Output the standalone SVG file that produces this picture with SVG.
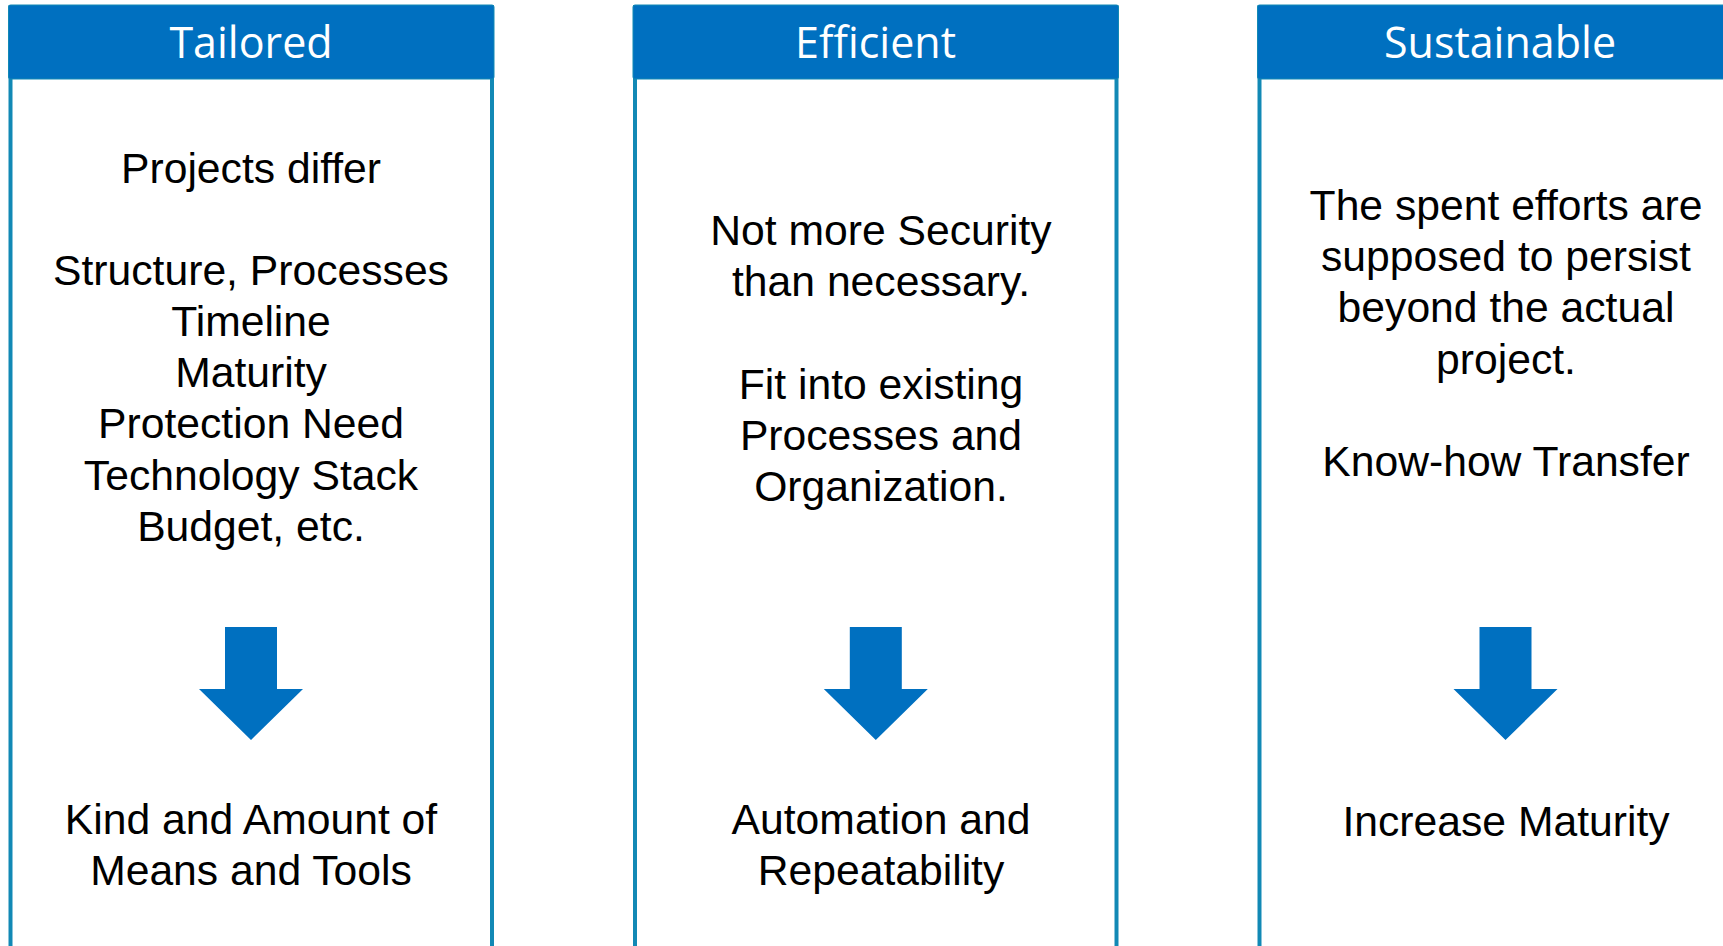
<svg xmlns="http://www.w3.org/2000/svg" width="1723" height="946" viewBox="0 0 1723 946">
<style>
.frame{fill:#ffffff;stroke:#1289b5;stroke-width:4}
.head{fill:#0070c0;stroke:#1289b5;stroke-width:1}
.htxt{font-family:"Open Sans","Noto Sans",sans-serif;font-size:43px;font-weight:500;fill:#ffffff;text-anchor:middle}
.btxt{font-family:"Liberation Sans",Arial,sans-serif;font-size:42.67px;fill:#000000;text-anchor:middle}
.arrow{fill:#0070c0}
</style>
<defs>
<path id="downArrow" class="arrow" d="M-26,0 H26 V62 H52 L0,113 L-52,62 H-26 Z"/>
</defs>
<rect width="1723" height="946" fill="#ffffff"/>
<g id="panel-tailored">
<rect class="frame" x="10.5" y="7" width="481.5" height="1000"/>
<rect class="head" x="8.5" y="5" width="485.5" height="74" rx="2"/>
<text class="htxt" x="251" y="58">Tailored</text>
<text class="btxt" x="251" y="183">Projects differ</text>
<text class="btxt" x="251" y="284.8">Structure, Processes</text>
<text class="btxt" x="251" y="336">Timeline</text>
<text class="btxt" x="251" y="387.2">Maturity</text>
<text class="btxt" x="251" y="438.4">Protection Need</text>
<text class="btxt" x="251" y="489.6">Technology Stack</text>
<text class="btxt" x="251" y="540.8">Budget, etc.</text>
<use href="#downArrow" x="251" y="627"/>
<text class="btxt" x="251" y="834">Kind and Amount of</text>
<text class="btxt" x="251" y="885">Means and Tools</text>
</g>
<g id="panel-efficient">
<rect class="frame" x="635" y="7" width="481.5" height="1000"/>
<rect class="head" x="633" y="5" width="485.5" height="74" rx="2"/>
<text class="htxt" x="875.5" y="58">Efficient</text>
<text class="btxt" x="881" y="245">Not more Security</text>
<text class="btxt" x="881" y="296.2">than necessary.</text>
<text class="btxt" x="881" y="398.6">Fit into existing</text>
<text class="btxt" x="881" y="449.8">Processes and</text>
<text class="btxt" x="881" y="501">Organization.</text>
<use href="#downArrow" x="875.8" y="627"/>
<text class="btxt" x="881" y="834">Automation and</text>
<text class="btxt" x="881" y="885">Repeatability</text>
</g>
<g id="panel-sustainable">
<rect class="frame" x="1259.5" y="7" width="481.5" height="1000"/>
<rect class="head" x="1257.5" y="5" width="485.5" height="74" rx="2"/>
<text class="htxt" x="1500" y="58">Sustainable</text>
<text class="btxt" x="1506" y="220">The spent efforts are</text>
<text class="btxt" x="1506" y="271.2">supposed to persist</text>
<text class="btxt" x="1506" y="322.4">beyond the actual</text>
<text class="btxt" x="1506" y="373.6">project.</text>
<text class="btxt" x="1506" y="476">Know-how Transfer</text>
<use href="#downArrow" x="1505.5" y="627"/>
<text class="btxt" x="1506" y="836">Increase Maturity</text>
</g>
<g id="connectors"></g>
</svg>
